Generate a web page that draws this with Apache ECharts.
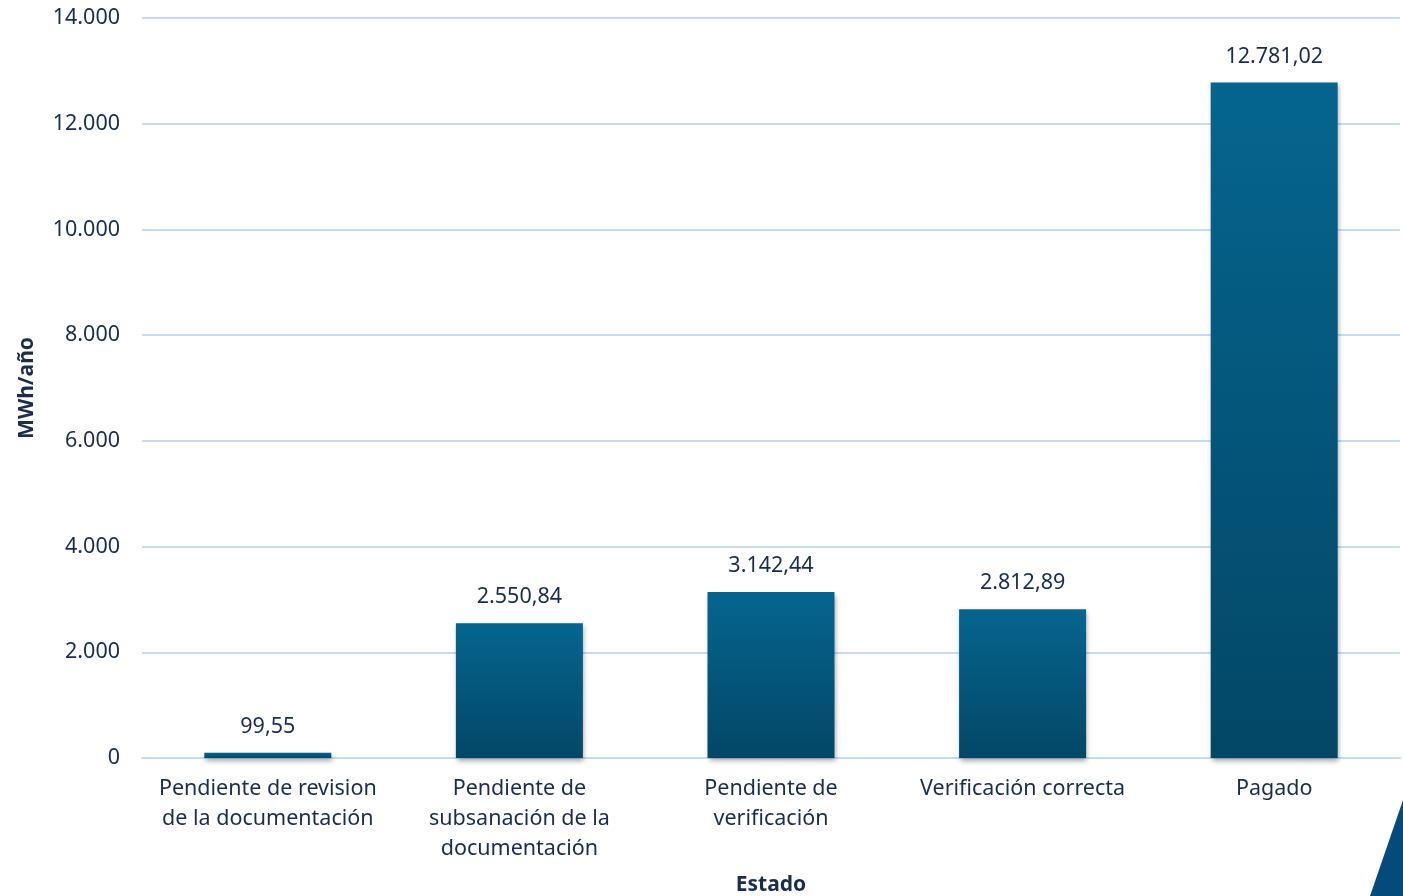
<!DOCTYPE html>
<html>
<head>
    <meta charset="utf-8">
    <title>MWh/año por estado</title>
    <script src="https://cdn.jsdelivr.net/npm/echarts@6/dist/echarts.min.js"></script>
    <style>
    *{margin:0px; padding:0px;}
    body{background:#fff;}
    #main{width:1403px; height:896px;}
    </style>
</head>
<body>
    <div id="main"></div>
    <script type="text/javascript">
        var estados = ['Pendiente de revision\nde la documentación', 'Pendiente de\nsubsanación de la\ndocumentación', 'Pendiente de\nverificación', 'Verificación correcta', 'Pagado'];
        var valores = [99.55, 2550.84, 3142.44, 2812.89, 12781.02];
        var yTicks = [0, 2000, 4000, 6000, 8000, 10000, 12000, 14000];

        var txt = '#1a2d4b';
        var fuente = '"Noto Sans", sans-serif';

        function fmt(v, dec) {
            return v.toLocaleString('es-ES', {minimumFractionDigits: dec, maximumFractionDigits: dec, useGrouping: 'always'});
        }

        var myChart = echarts.init(document.getElementById('main'));

        var option = {
            backgroundColor: '#fff',
            textStyle: {fontFamily: fuente},
            grid: {left: 142, right: 3, top: 18, bottom: 138, outerBoundsMode: 'none', containLabel: false},
            xAxis: {
                type: 'category',
                data: estados,
                name: 'Estado',
                nameLocation: 'middle',
                nameGap: 117,
                nameTextStyle: {color: txt, fontSize: 21, fontWeight: 'bold', fontFamily: fuente},
                axisLine: {lineStyle: {color: '#c6dcf2', width: 2}},
                axisTick: {show: false},
                axisLabel: {color: txt, fontSize: 21.5, lineHeight: 30, margin: 16, interval: 0, fontFamily: fuente}
            },
            yAxis: {
                type: 'value',
                min: yTicks[0],
                max: yTicks[yTicks.length - 1],
                interval: 2000,
                name: 'MWh/año',
                nameLocation: 'middle',
                nameGap: 104,
                nameTextStyle: {color: txt, fontSize: 21, fontWeight: 'bold', fontFamily: fuente},
                axisLine: {show: false},
                axisTick: {show: false},
                axisLabel: {
                    color: txt, fontSize: 21.5, margin: 22, fontFamily: fuente,
                    formatter: function (v) { return fmt(v, 0); }
                },
                splitLine: {lineStyle: {color: '#c6dcf2', width: 2}}
            },
            series: [{
                type: 'bar',
                data: valores,
                barWidth: 127,
                itemStyle: {
                    color: new echarts.graphic.LinearGradient(0, 0, 0, 1, [
                        {offset: 0, color: '#05658f'},
                        {offset: 1, color: '#034766'}
                    ]),
                    shadowColor: 'rgba(0,0,0,0.35)',
                    shadowBlur: 5,
                    shadowOffsetX: 1,
                    shadowOffsetY: 3
                },
                label: {
                    show: true,
                    position: 'top',
                    distance: 15,
                    color: txt,
                    fontSize: 21.5,
                    fontFamily: fuente,
                    formatter: function (p) { return fmt(p.value, 2); }
                }
            }],
            graphic: [{
                type: 'polygon',
                right: 0,
                bottom: 0,
                shape: {points: [[33, 0], [33, 96], [0, 96]]},
                style: {fill: '#044a7a'}
            }]
        };

        myChart.setOption(option);
    </script>
</body>
</html>
